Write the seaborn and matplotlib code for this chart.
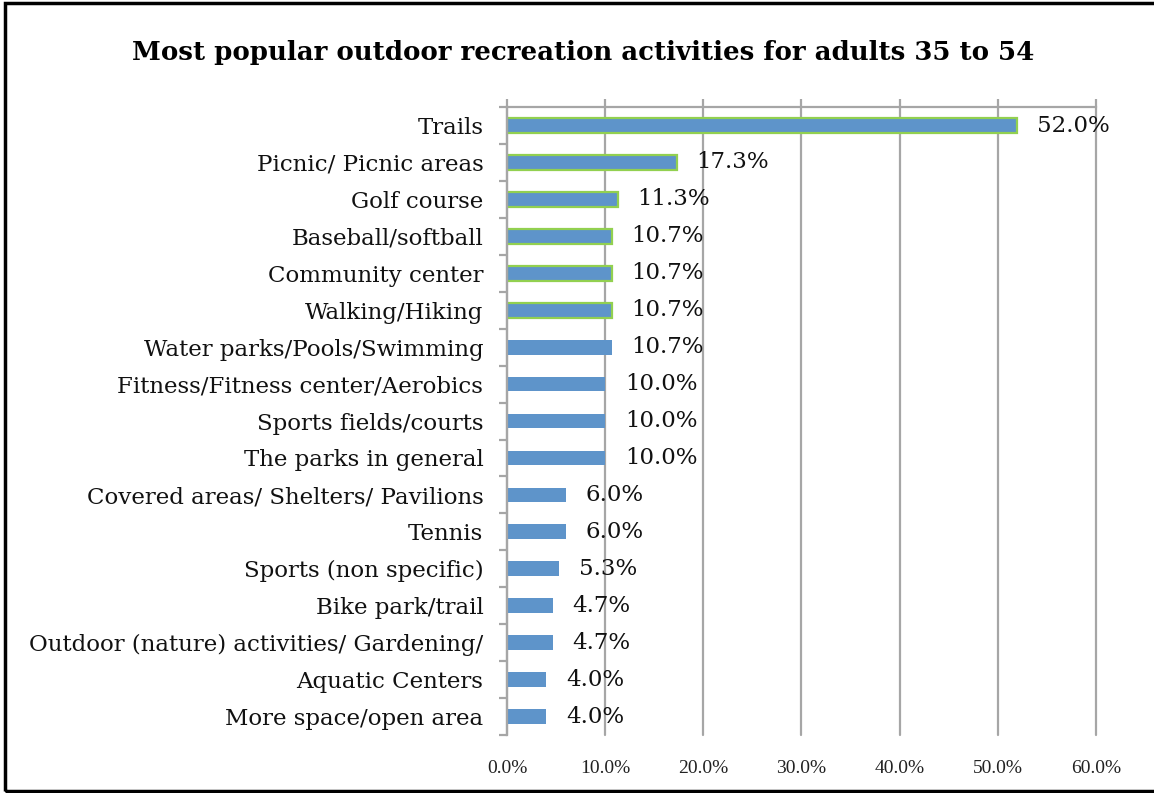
import matplotlib
matplotlib.use("Agg")
import matplotlib.pyplot as plt
import seaborn as sns
import numpy as np
import pandas as pd
from matplotlib.patches import Rectangle

# Survey results: share of respondents aged 35-54 naming each activity
activities = [
    "Trails",
    "Picnic/ Picnic areas",
    "Golf course",
    "Baseball/softball",
    "Community center",
    "Walking/Hiking",
    "Water parks/Pools/Swimming",
    "Fitness/Fitness center/Aerobics",
    "Sports fields/courts",
    "The parks in general",
    "Covered areas/ Shelters/ Pavilions",
    "Tennis",
    "Sports (non specific)",
    "Bike park/trail",
    "Outdoor (nature) activities/ Gardening/",
    "Aquatic Centers",
    "More space/open area",
]
percent = [52.0, 17.3, 11.3, 10.7, 10.7, 10.7, 10.7, 10.0, 10.0, 10.0,
           6.0, 6.0, 5.3, 4.7, 4.7, 4.0, 4.0]
x_ticks = [0, 10, 20, 30, 40, 50, 60]
x_tick_labels = ["0.0%", "10.0%", "20.0%", "30.0%", "40.0%", "50.0%", "60.0%"]
outlined_count = 6  # top activities drawn with a green outline

title = "Most popular outdoor recreation activities for adults 35 to 54"

df = pd.DataFrame({"activity": activities, "percent": percent})

sns.set_theme(style="white")
plt.rcParams["font.family"] = ["DejaVu Serif"]

BAR_BLUE = "#5E94CA"
EDGE_GREEN = "#92D050"
GRID_GREY = "#A6A6A6"

fig = plt.figure(figsize=(11.54, 7.93), dpi=100)
ax = fig.add_axes([0.4393, 0.0731, 0.5104, 0.7919])

sns.barplot(data=df, x="percent", y="activity", orient="h",
            color=BAR_BLUE, width=0.40, saturation=1, ax=ax)

for i, patch in enumerate(ax.patches):
    patch.set_facecolor(BAR_BLUE)
    if i < outlined_count:
        patch.set_edgecolor(EDGE_GREEN)
        patch.set_linewidth(1.6)
    else:
        patch.set_edgecolor("none")
        patch.set_linewidth(0)

ax.set_xlim(0, 60)
ax.set_ylim(len(activities) - 0.5, -0.5)
ax.set_xlabel("")
ax.set_ylabel("")

# Vertical gridlines
ax.set_xticks(x_ticks)
ax.set_xticklabels(x_tick_labels, fontsize=14, family="Liberation Serif")
ax.xaxis.grid(True, color=GRID_GREY, linewidth=1.6)
ax.yaxis.grid(False)
ax.set_axisbelow(True)
for gl in ax.get_xgridlines():
    gl.set_clip_on(False)

# Tick marks on the top edge only, labels below
ax.tick_params(axis="x", top=True, bottom=False, labeltop=False,
               labelbottom=True, length=6, width=1.6, color=GRID_GREY,
               direction="out", pad=12, labelcolor="#222222")

# Category tick marks sit between bars
ax.set_yticks(np.arange(len(activities)))
ax.set_yticklabels(activities, fontsize=16.5)
ax.set_yticks(np.arange(-0.5, len(activities), 1), minor=True)
ax.tick_params(axis="y", which="major", length=0, pad=17, labelcolor="#111111")
ax.tick_params(axis="y", which="minor", left=True, length=6, width=1.6,
               color=GRID_GREY, direction="out")

for side in ["right", "bottom"]:
    ax.spines[side].set_visible(False)
for side in ["top", "left"]:
    ax.spines[side].set_color(GRID_GREY)
    ax.spines[side].set_linewidth(1.6)

# Value labels past each bar end
for i, v in enumerate(percent):
    ax.text(v + 2.0, i, f"{v:.1f}%", va="center", ha="left",
            fontsize=16.5, color="#111111")

fig.text(0.505, 0.934, title, ha="center", va="center",
         fontsize=18.7, fontweight="bold", color="#000000")

# Frame on the left, top and bottom of the chart
fig.patches.append(Rectangle((0.004, 0.003), 1.05, 0.993,
                             transform=fig.transFigure, fill=False,
                             edgecolor="black", linewidth=2.5))

fig.savefig("out.png", dpi=100)
